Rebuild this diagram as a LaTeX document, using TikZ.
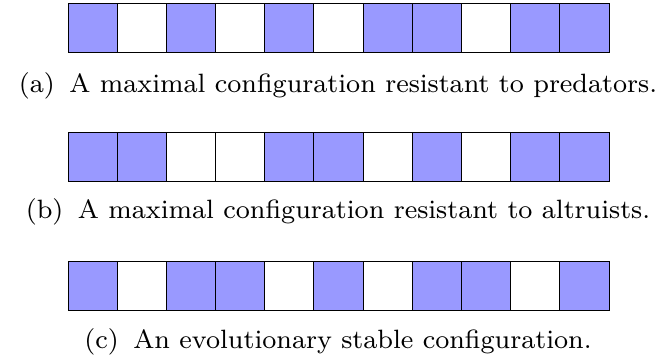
\documentclass[tikz,border=0pt]{standalone}
\usetikzlibrary{positioning}
\definecolor{cellblue}{RGB}{153,153,255}
\newcommand{\captxt}[2]{\scalebox{3.3125}{\fontsize{8}{9.6}\selectfont (#1)\hspace{0.55em}#2}}
\tikzset{
  cell/.style={draw=black, line width=0.9pt, minimum width=49.18pt, minimum height=49pt, inner sep=0pt, outer sep=0pt, anchor=north west},
  full/.style={cell, fill=cellblue},
  empty/.style={cell, fill=white},
  captext/.style={anchor=base, inner sep=0pt}
}
\begin{document}
\begin{tikzpicture}[x=1pt,y=-1pt]
\useasboundingbox (0,0) rectangle (668,360);
% row a
\foreach \s [count=\i] in {1,0,1,0,1,0,1,1,0,1,1}{
  \ifnum\s=1 \node[full] (a\i) at ({68+(\i-1)*49.18},3) {};
  \else \node[empty] (a\i) at ({68+(\i-1)*49.18},3) {}; \fi
}
\node[captext] (capa) at (338,92) {\captxt{a}{A maximal configuration resistant to predators.}};
% row b
\foreach \s [count=\i] in {1,1,0,0,1,1,0,1,0,1,1}{
  \ifnum\s=1 \node[full] (b\i) at ({68+(\i-1)*49.18},132) {};
  \else \node[empty] (b\i) at ({68+(\i-1)*49.18},132) {}; \fi
}
\node[captext] (capb) at (338,218.5) {\captxt{b}{A maximal configuration resistant to altruists.}};
% row c
\foreach \s [count=\i] in {1,0,1,1,0,1,0,1,1,0,1}{
  \ifnum\s=1 \node[full] (c\i) at ({68+(\i-1)*49.18},261) {};
  \else \node[empty] (c\i) at ({68+(\i-1)*49.18},261) {}; \fi
}
\node[captext] (capc) at (338,348.5) {\captxt{c}{An evolutionary stable configuration.}};
\end{tikzpicture}
\end{document}
